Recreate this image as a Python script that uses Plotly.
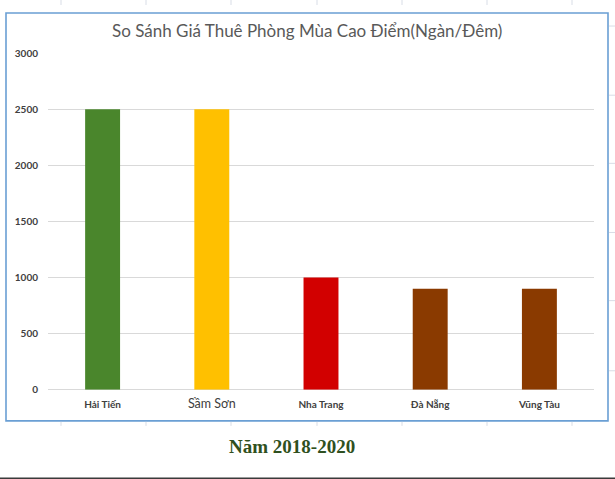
import plotly.graph_objects as go

# data
cities = ["Hải Tiến", "Sầm Sơn", "Nha Trang", "Đà Nẵng", "Vũng Tàu"]
prices = [2500, 2500, 1000, 900, 900]
bar_colors = ["#4a862c", "#ffc000", "#d20000", "#8a3a00", "#8a3a00"]
y_ticks = [0, 500, 1000, 1500, 2000, 2500, 3000]

# the Sầm Sơn label is typed bigger and plain in the original
tick_text = [c if c != "Sầm Sơn" else '<span style="font-size:12.5px;font-weight:normal">' + c + "</span>"
             for c in cities]

W, H = 615, 479
# the paper area comes out about 7px in from top and bottom, so map pixels onto that
OFF, HE = 7.0, 465.0

def px(x):
    return x / W

def py(y):
    return 1 - (y - OFF) / HE

fig = go.Figure()
fig.add_trace(go.Bar(
    x=cities,
    y=prices,
    marker=dict(color=bar_colors, line=dict(width=0)),
    hoverinfo="x+y",
))

shapes = [
    # chart frame
    dict(type="rect", xref="paper", yref="paper",
         x0=px(6), x1=px(608), y0=py(420), y1=py(13),
         line=dict(color="#6a9fd4", width=1.6), layer="above"),
    # dark rule at the foot of the page
    dict(type="line", xref="paper", yref="paper",
         x0=0, x1=1, y0=py(477.5), y1=py(477.5),
         line=dict(color="#3a3a3a", width=2)),
]
# faint table-cell ticks around the frame
for xv in [61, 146, 231, 317, 402, 487, 572]:
    shapes.append(dict(type="line", xref="paper", yref="paper",
                       x0=px(xv), x1=px(xv), y0=py(0), y1=py(5),
                       line=dict(color="#d8dde6", width=1)))
    shapes.append(dict(type="line", xref="paper", yref="paper",
                       x0=px(xv), x1=px(xv), y0=py(421), y1=py(425),
                       line=dict(color="#d8dde6", width=1)))
for yv in [26, 95, 163, 232, 300, 370]:
    shapes.append(dict(type="line", xref="paper", yref="paper",
                       x0=px(609), x1=px(615), y0=py(yv), y1=py(yv),
                       line=dict(color="#d8dde6", width=1)))

tick_font = dict(size=10, color="#404040", family="Lato, Open Sans, sans-serif", weight="bold")

fig.update_layout(
    width=W, height=H,
    margin=dict(l=0, r=0, t=0, b=0),
    paper_bgcolor="white",
    plot_bgcolor="white",
    showlegend=False,
    bargap=0.68,
    font=dict(family="Lato, Open Sans, sans-serif", color="#595959"),
    xaxis=dict(
        domain=[px(48), px(594)],
        tickmode="array", tickvals=cities, ticktext=tick_text,
        tickfont=tick_font,
        showgrid=False, showline=False, ticks="", ticklabelstandoff=7,
        anchor="y",
    ),
    yaxis=dict(
        domain=[py(389), py(53)],
        range=[0, 3000],
        tickmode="array", tickvals=y_ticks,
        tickfont=tick_font,
        showgrid=True, gridcolor="#d9d9d9", gridwidth=1,
        zeroline=True, zerolinecolor="#d9d9d9", zerolinewidth=1,
        showline=False, ticks="", ticklabelstandoff=9,
    ),
    shapes=shapes,
    annotations=[
        dict(text="So Sánh Giá Thuê Phòng Mùa Cao Điểm(Ngàn/Đêm)",
             xref="paper", yref="paper", x=px(307), y=py(30),
             xanchor="center", yanchor="middle", showarrow=False,
             font=dict(size=17, color="#595959", family="Lato, Open Sans, sans-serif")),
        dict(text="<b>Năm 2018-2020</b>",
             xref="paper", yref="paper", x=px(292), y=py(446),
             xanchor="center", yanchor="middle", showarrow=False,
             font=dict(size=19, color="#2f5020", family="Liberation Serif, serif")),
    ],
)

page_fix = "document.body.style.margin='0';"

fig.write_html("out.html", config={"displayModeBar": False}, post_script=page_fix)
